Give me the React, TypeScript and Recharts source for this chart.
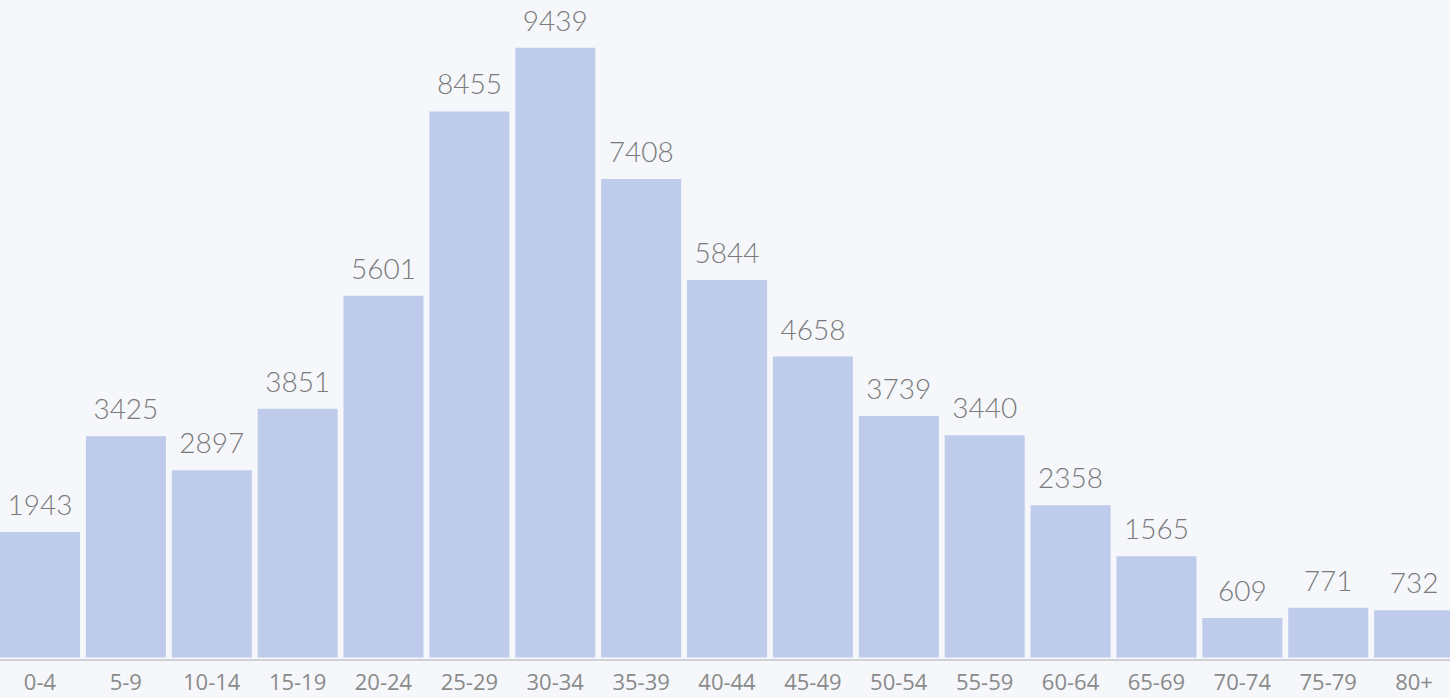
import { BarChart, Bar, XAxis, YAxis, LabelList } from 'recharts'

const ageGroups = ['0-4', '5-9', '10-14', '15-19', '20-24', '25-29', '30-34', '35-39', '40-44', '45-49', '50-54', '55-59', '60-64', '65-69', '70-74', '75-79', '80+']
const counts = [1943, 3425, 2897, 3851, 5601, 8455, 9439, 7408, 5844, 4658, 3739, 3440, 2358, 1565, 609, 771, 732]

const data = ageGroups.map((group, i) => ({ group, count: counts[i] }))

export default function App() {
  return (
    <div style={{ position: 'absolute', left: 0, top: 0, width: 1450, height: 698, overflow: 'hidden', background: '#f5f7fb' }}>
      <div style={{ marginLeft: -3 }}>
        <BarChart width={1460} height={698} data={data} margin={{ top: 0, right: 0, bottom: 0, left: 0 }} barSize={80}>
          <XAxis
            dataKey="group"
            height={38}
            interval={0}
            tickLine={false}
            tickMargin={8}
            axisLine={{ stroke: '#cfd1d6', strokeWidth: 2 }}
            tick={{ fill: '#8a8a8a', fontSize: 22, fontFamily: "'Open Sans', sans-serif" }}
          />
          <YAxis hide domain={[-40, 10180]} />
          <Bar dataKey="count" fill="#bfcbeb" isAnimationActive={false}>
            <LabelList
              dataKey="count"
              position="top"
              offset={17}
              fill="#7a7a7a"
              fontSize={28}
              fontWeight={300}
              fontFamily="Lato, sans-serif"
            />
          </Bar>
        </BarChart>
      </div>
    </div>
  )
}
